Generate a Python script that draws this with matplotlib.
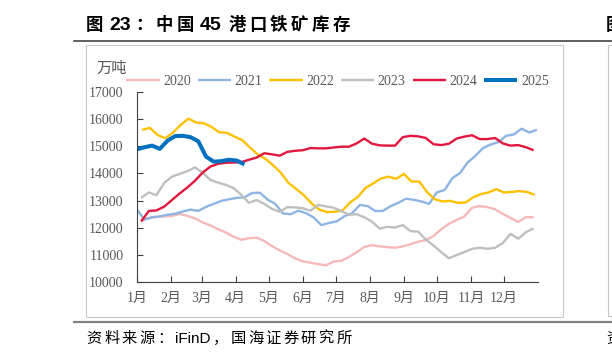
import re
import numpy as np
import matplotlib
matplotlib.use('Agg')
import matplotlib.pyplot as plt
from matplotlib.patches import Rectangle
from matplotlib.lines import Line2D

# --------------------------------------------------------------------------
# data: 45港口铁矿石库存 (万吨), weekly

years = ['2020', '2021', '2022', '2023', '2024', '2025']
first_day = [4, 0, 5, 4, 4, 0]   # day of year of the first weekly reading

inv_2020 = [12290, 12360, 12400, 12420, 12440, 12510, 12440, 12350, 12200, 12090,
            11950, 11830, 11680, 11560, 11620, 11640, 11520, 11330, 11170, 11040,
            10880, 10770, 10720, 10670, 10620, 10760, 10790, 10930, 11100, 11300,
            11360, 11320, 11290, 11270, 11320, 11400, 11490, 11550, 11700, 11950,
            12150, 12290, 12420, 12740, 12800, 12760, 12680, 12510, 12360, 12220,
            12390, 12390]
inv_2021 = [12690, 12300, 12390, 12420, 12480, 12520, 12600, 12670, 12620, 12770,
            12880, 12990, 13050, 13100, 13120, 13280, 13290, 13040, 12880, 12530,
            12500, 12630, 12540, 12380, 12100, 12180, 12240, 12430, 12540, 12840,
            12800, 12620, 12620, 12800, 12920, 13070, 13030, 12970, 12880, 13300,
            13390, 13820, 14010, 14400, 14640, 14930, 15060, 15150, 15380, 15430,
            15640, 15500, 15600]
inv_2022 = [15600, 15670, 15410, 15290, 15500, 15780, 16010, 15870, 15840, 15710,
            15510, 15490, 15350, 15220, 14950, 14700, 14540, 14300, 14030, 13650,
            13430, 13200, 12900, 12670, 12580, 12590, 12630, 12930, 13130, 13460,
            13630, 13810, 13880, 13800, 13980, 13700, 13700, 13320, 13050, 12970,
            12990, 12920, 12930, 13120, 13240, 13300, 13420, 13300, 13320, 13350,
            13320, 13210]
inv_2023 = [13100, 13300, 13200, 13650, 13880, 13980, 14080, 14220, 14020, 13760,
            13660, 13580, 13460, 13220, 12920, 13020, 12880, 12700, 12590, 12760,
            12750, 12720, 12630, 12840, 12790, 12740, 12620, 12480, 12500, 12390,
            12230, 11970, 12040, 12010, 12100, 11880, 11860, 11570, 11350, 11110,
            10880, 11000, 11110, 11230, 11270, 11230, 11270, 11440, 11780, 11600,
            11840, 11980]
inv_2024 = [12230, 12620, 12640, 12780, 13020, 13260, 13480, 13730, 14030, 14250,
            14350, 14390, 14400, 14410, 14500, 14580, 14740, 14700, 14650, 14790,
            14830, 14850, 14930, 14920, 14920, 14950, 14980, 14980, 15100, 15280,
            15090, 15030, 15020, 15020, 15330, 15380, 15360, 15300, 15070, 15040,
            15090, 15280, 15350, 15400, 15260, 15260, 15300, 15100, 15020, 15040,
            14960, 14850]
inv_2025 = [14880, 14960, 15020, 14900, 15200, 15370, 15380, 15330, 15180, 14620,
            14430, 14450, 14500, 14470, 14330]

series = [inv_2020, inv_2021, inv_2022, inv_2023, inv_2024, inv_2025]

month_starts = [0, 31, 59, 90, 120, 151, 181, 212, 243, 273, 304, 334]
month_labels = ['1月', '2月', '3月', '4月', '5月', '6月',
                '7月', '8月', '9月', '10月', '11月', '12月']
y_ticks = [10000, 11000, 12000, 13000, 14000, 15000, 16000, 17000]

# --------------------------------------------------------------------------
# style

colors = ['#F4B9B8', '#8DB4E2', '#FFC000', '#BFBFBF', '#E2173D', '#0070C0']
widths = [1.7, 1.7, 1.7, 1.7, 1.7, 2.9]
grey_txt = '#595959'

plt.rcParams['font.family'] = ['Liberation Serif', 'Noto Sans CJK SC']
plt.rcParams['font.size'] = 10

W, H = 612, 361


def fx(x):
    return x / W


def fy(y):
    return 1 - y / H


def spaced_text(fig, x, y, s, spacing, space_w, ascii_size=None, **kw):
    # draw a string token by token (CJK chars one by one, ascii runs kept
    # together) with extra letter spacing in pixels
    r = fig.canvas.get_renderer()
    for tok in re.findall(r'[A-Za-z0-9]+| |[^A-Za-z0-9 ]', s):
        if tok == ' ':
            x += space_w
            continue
        opts = dict(kw)
        if ascii_size and tok.isascii():
            opts['fontsize'] = ascii_size
        t = fig.text(fx(x), fy(y), tok, ha='left', va='center', **opts)
        x += t.get_window_extent(r).width + spacing


fig = plt.figure(figsize=(W / 100, H / 100), dpi=100)

# page furniture: rules, boxes, title, source
fig.add_artist(Line2D([fx(74), 1.0], [fy(41), fy(41)], color='#333333', lw=1.1))
fig.add_artist(Line2D([fx(74), 1.0], [fy(322), fy(322)], color='#808080', lw=1.6))
fig.add_artist(Rectangle((fx(86), fy(317)), (563 - 86) / W, (317 - 45) / H,
                         fill=False, ec='#C8C8C8', lw=0.8, transform=fig.transFigure))
fig.add_artist(Rectangle((fx(607.7), fy(316)), 0.2, (316 - 45) / H,
                         fill=False, ec='#C8C8C8', lw=0.8, transform=fig.transFigure))

title_font = dict(fontsize=12.5, fontweight='bold', color='black',
                  family=['Liberation Sans', 'Noto Sans CJK SC'])
spaced_text(fig, 86, 25, '图 23：中国 45 港口铁矿库存', 3.4, 3, ascii_size=14, **title_font)
# start of the neighbouring figure's title, cut by the page edge as in the report
fig.text(fx(606), fy(25), '图', ha='left', va='center', **title_font)

src_font = dict(fontsize=11, color='black', family=['Liberation Sans', 'Noto Sans CJK SC'])
spaced_text(fig, 86.5, 339, '资料来源：iFinD，国海证券研究所', 2.4, 3, **src_font)
fig.text(fx(606), fy(339), '资', ha='left', va='center', **src_font)

# --------------------------------------------------------------------------
# chart

ax = fig.add_axes([fx(136.7), fy(282.3), (538 - 136.7) / W, (282.3 - 91.7) / H])

for yr, vals, d0, c, lw in zip(years, series, first_day, colors, widths):
    days = d0 + 7 * np.arange(len(vals))
    ax.plot(days, vals, color=c, lw=lw, label=yr,
            solid_joinstyle='round', solid_capstyle='butt')

ax.set_xlim(0, 365)
ax.set_ylim(10000, 17000)
ax.set_xticks(month_starts)
ax.set_xticklabels(month_labels)
ax.set_yticks(y_ticks)
ax.set_yticklabels([str(v) for v in y_ticks])

for side in ['top', 'right']:
    ax.spines[side].set_visible(False)
for side in ['left', 'bottom']:
    ax.spines[side].set_color('#404040')
    ax.spines[side].set_linewidth(0.8)

ax.tick_params(axis='both', direction='in', length=4, width=0.8,
               color='#404040', labelcolor=grey_txt, labelsize=10)
ax.tick_params(axis='y', pad=9.5)
ax.tick_params(axis='x', pad=7)

fig.text(fx(112), fy(68), '万吨', ha='center', va='center', fontsize=11,
         color=grey_txt, family=['Noto Sans CJK SC'])

leg = fig.legend(*ax.get_legend_handles_labels(), loc='center',
                 bbox_to_anchor=(fx(337.5), fy(81.7)), ncol=6, frameon=False,
                 handlelength=2.4, handletextpad=0.25, columnspacing=0.5,
                 fontsize=10)
for t in leg.get_texts():
    t.set_color(grey_txt)

fig.savefig('out.png', dpi=100)
